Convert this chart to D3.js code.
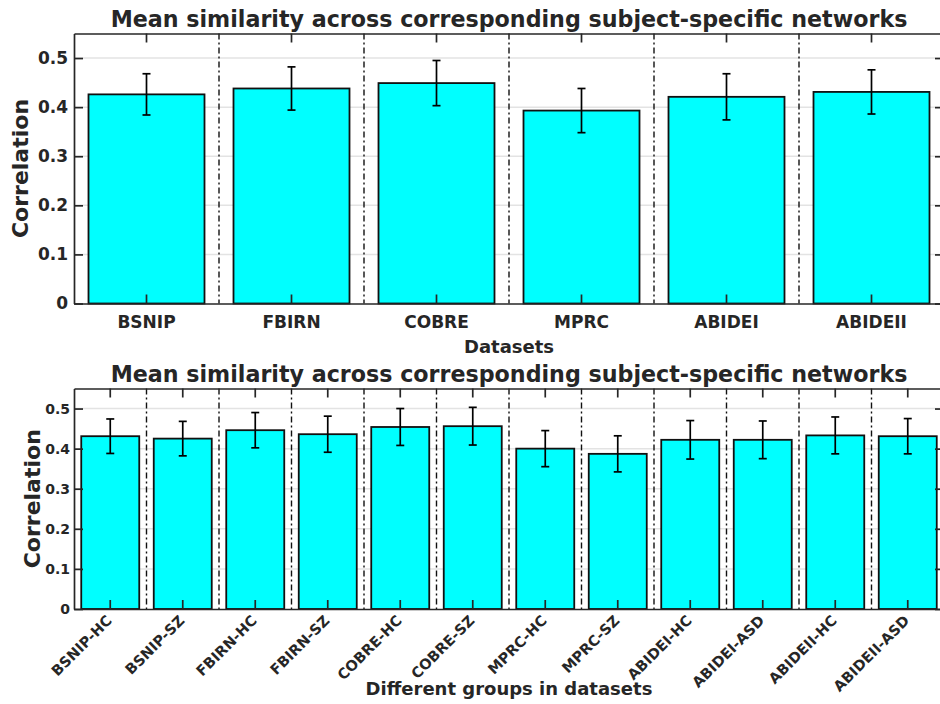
<!DOCTYPE html>
<html>
<head>
<meta charset="utf-8">
<script src="https://cdn.jsdelivr.net/npm/d3@7"></script>
<style>
  body { margin: 0; background: #fff; }
  svg text { font-family: "DejaVu Sans", sans-serif; font-weight: bold; fill: #262626; }
</style>
</head>
<body>
<div id="chart"></div>
<script>
"use strict";

var W = 940, H = 704;

// top panel: one bar per dataset
var datasets = ["BSNIP", "FBIRN", "COBRE", "MPRC", "ABIDEI", "ABIDEII"];
var datasetMean = [0.426, 0.438, 0.449, 0.393, 0.421, 0.431];
var datasetErr = [0.042, 0.044, 0.046, 0.045, 0.047, 0.045];

// bottom panel: one bar per group
var groups = ["BSNIP-HC", "BSNIP-SZ", "FBIRN-HC", "FBIRN-SZ", "COBRE-HC", "COBRE-SZ",
  "MPRC-HC", "MPRC-SZ", "ABIDEI-HC", "ABIDEI-ASD", "ABIDEII-HC", "ABIDEII-ASD"];
var groupMean = [0.431, 0.425, 0.446, 0.436, 0.454, 0.456, 0.400, 0.387, 0.422, 0.422, 0.433, 0.431];
var groupErr = [0.043, 0.043, 0.044, 0.045, 0.046, 0.047, 0.045, 0.045, 0.048, 0.047, 0.046, 0.044];

var yTicks = [0, 0.1, 0.2, 0.3, 0.4, 0.5];
var yMax = 0.55;
var titleText = "Mean similarity across corresponding subject-specific networks";

var svg = d3.select("#chart").append("svg")
  .attr("width", W)
  .attr("height", H);

var ink = "#262626";

function drawPanel(p) {
  var x = d3.scaleBand().domain(p.cats).range([p.left, p.right]).padding(0);
  var y = d3.scaleLinear().domain([0, yMax]).range([p.bottom, p.top]);
  var bw = x.bandwidth();
  var g = svg.append("g");

  //gridlines behind everything
  g.append("g").selectAll("line")
    .data(yTicks.filter(function(d) { return d > 0; }))
    .enter().append("line")
    .attr("x1", p.left).attr("x2", p.right)
    .attr("y1", function(d) { return y(d); })
    .attr("y2", function(d) { return y(d); })
    .attr("stroke", "#e3e3e3")
    .attr("stroke-width", 1.5);

  //separators between categories
  g.append("g").selectAll("line")
    .data(p.cats.slice(1))
    .enter().append("line")
    .attr("x1", function(d) { return x(d); })
    .attr("x2", function(d) { return x(d); })
    .attr("y1", p.top).attr("y2", p.bottom)
    .attr("stroke", "#111")
    .attr("stroke-width", 1.4)
    .attr("stroke-dasharray", "6,3,2,3");

  g.append("g").selectAll("rect")
    .data(p.cats)
    .enter().append("rect")
    .attr("x", function(d) { return x(d) + bw * 0.1; })
    .attr("width", bw * 0.8)
    .attr("y", function(d, i) { return y(p.mean[i]); })
    .attr("height", function(d, i) { return y(0) - y(p.mean[i]); })
    .attr("fill", "#00ffff")
    .attr("stroke", "#111")
    .attr("stroke-width", 1.8);

  //error bars
  var eb = g.append("g").selectAll("g")
    .data(p.cats)
    .enter().append("g")
    .attr("stroke", "#000")
    .attr("stroke-width", 1.7);
  eb.append("line")
    .attr("x1", function(d) { return x(d) + bw / 2; })
    .attr("x2", function(d) { return x(d) + bw / 2; })
    .attr("y1", function(d, i) { return y(p.mean[i] + p.err[i]); })
    .attr("y2", function(d, i) { return y(p.mean[i] - p.err[i]); });
  [1, -1].forEach(function(s) {
    eb.append("line")
      .attr("x1", function(d) { return x(d) + bw / 2 - 4; })
      .attr("x2", function(d) { return x(d) + bw / 2 + 4; })
      .attr("y1", function(d, i) { return y(p.mean[i] + s * p.err[i]); })
      .attr("y2", function(d, i) { return y(p.mean[i] + s * p.err[i]); });
  });

  //axes, ticks point inward like matlab
  var yl = g.append("g").attr("transform", "translate(" + p.left + ",0)")
    .call(d3.axisLeft(y).tickValues(yTicks).tickFormat(d3.format("")).tickSize(-9).tickSizeOuter(0).tickPadding(p.yPad));
  yl.selectAll("text").style("font-size", p.yFont + "px").style("font-family", null);
  var yr = g.append("g").attr("transform", "translate(" + p.right + ",0)")
    .call(d3.axisRight(y).tickValues(yTicks).tickFormat("").tickSize(-9).tickSizeOuter(0));
  var xt = g.append("g").attr("transform", "translate(0," + p.top + ")")
    .call(d3.axisTop(x).tickFormat("").tickSize(-9).tickSizeOuter(0));
  var xb = g.append("g").attr("transform", "translate(0," + p.bottom + ")")
    .call(d3.axisBottom(x).tickSize(-9).tickSizeOuter(0).tickPadding(p.xPad));
  [yl, yr, xt, xb].forEach(function(a) {
    a.selectAll("path, line").attr("stroke", ink).attr("stroke-width", 1.7);
  });
  var xl = xb.selectAll("text").style("font-size", p.xFont + "px").style("font-family", null);
  if (p.rotate) {
    xl.attr("text-anchor", "end")
      .attr("x", 0).attr("y", 0)
      .attr("dy", "0.35em")
      .attr("transform", "translate(-1,9) rotate(-45)");
  }

  g.append("text")
    .attr("x", (p.left + p.right) / 2)
    .attr("y", p.top - 7)
    .attr("text-anchor", "middle")
    .style("font-size", "22.2px")
    .text(titleText);

  g.append("text")
    .attr("transform", "translate(" + p.yLabX + "," + (p.top + p.bottom) / 2 + ") rotate(-90)")
    .attr("text-anchor", "middle")
    .style("font-size", "22px")
    .text("Correlation");

  g.append("text")
    .attr("x", (p.left + p.right) / 2)
    .attr("y", p.xLabY)
    .attr("text-anchor", "middle")
    .style("font-size", "18px")
    .text(p.xLabel);
}

drawPanel({
  cats: datasets, mean: datasetMean, err: datasetErr,
  left: 74, right: 944, top: 33.5, bottom: 303.5,
  yFont: 17, yPad: 6, xFont: 17, xPad: 12, rotate: false,
  yLabX: 28, xLabY: 353, xLabel: "Datasets"
});

drawPanel({
  cats: groups, mean: groupMean, err: groupErr,
  left: 74, right: 944, top: 388.5, bottom: 609,
  yFont: 14, yPad: 4, xFont: 14.5, xPad: 6, rotate: true,
  yLabX: 40, xLabY: 695, xLabel: "Different groups in datasets"
});
</script>
</body>
</html>
